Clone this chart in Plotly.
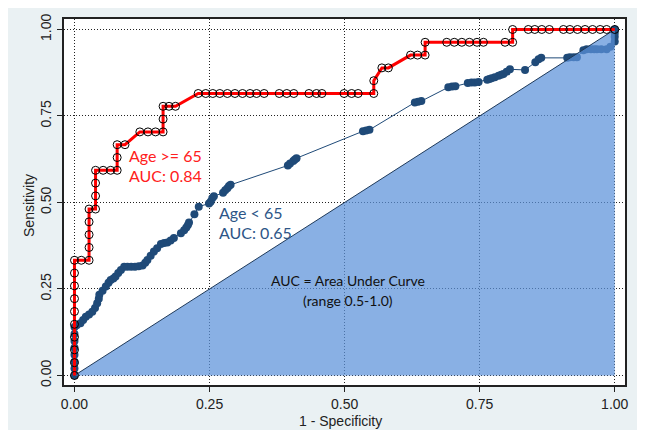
import plotly.graph_objects as go

# ---- data ----
tick_vals = [0, 0.25, 0.5, 0.75, 1.0]
tick_text = ["0.00", "0.25", "0.50", "0.75", "1.00"]

# Age >= 65 ROC points (1 - specificity, sensitivity)
old_x = [0, 0, 0, 0, 0, 0, 0, 0, 0, 0,
         0.0126, 0.027, 0.027, 0.027, 0.027, 0.027, 0.039, 0.039, 0.039, 0.039,
         0.053, 0.067, 0.079, 0.079, 0.079, 0.0935, 0.121, 0.136, 0.150, 0.164,
         0.164, 0.164, 0.175, 0.187, 0.229, 0.243, 0.256, 0.269, 0.283, 0.297,
         0.311, 0.325, 0.337, 0.351, 0.379, 0.393, 0.406, 0.434, 0.448, 0.458,
         0.499, 0.513, 0.525, 0.554, 0.554, 0.569, 0.581, 0.622, 0.635, 0.649,
         0.649, 0.689, 0.703, 0.717, 0.731, 0.745, 0.757, 0.797, 0.811, 0.811,
         0.840, 0.852, 0.865, 0.879, 0.905, 0.917, 0.931, 0.945, 0.959, 0.973,
         0.985, 1.0]
old_y = [0, 0.037, 0.074, 0.111, 0.148, 0.185, 0.222, 0.259, 0.296, 0.333,
         0.333, 0.333, 0.370, 0.407, 0.444, 0.481, 0.481, 0.519, 0.556, 0.593,
         0.593, 0.593, 0.593, 0.630, 0.667, 0.667, 0.704, 0.704, 0.704, 0.704,
         0.741, 0.778, 0.778, 0.778, 0.815, 0.815, 0.815, 0.815, 0.815, 0.815,
         0.815, 0.815, 0.815, 0.815, 0.815, 0.815, 0.815, 0.815, 0.815, 0.815,
         0.815, 0.815, 0.815, 0.815, 0.852, 0.889, 0.889, 0.926, 0.926, 0.926,
         0.963, 0.963, 0.963, 0.963, 0.963, 0.963, 0.963, 0.963, 0.963, 1.0,
         1.0, 1.0, 1.0, 1.0, 1.0, 1.0, 1.0, 1.0, 1.0, 1.0,
         1.0, 1.0]

# Age < 65 ROC points
young_x = [0, 0, 0, 0, 0, 0, 0, 0,
           0.004, 0.011, 0.016, 0.021, 0.027, 0.033, 0.038, 0.042, 0.045, 0.046,
           0.052, 0.058, 0.063, 0.067, 0.072, 0.076, 0.081, 0.086, 0.092, 0.098,
           0.105, 0.112, 0.119, 0.126, 0.131, 0.135, 0.141, 0.147, 0.153, 0.160,
           0.166, 0.172, 0.178, 0.184, 0.197, 0.203, 0.207, 0.210, 0.212, 0.222,
           0.230, 0.249, 0.252, 0.255, 0.258, 0.275, 0.279, 0.283, 0.286, 0.289,
           0.395, 0.399, 0.405, 0.408, 0.411,
           0.534, 0.540, 0.546,
           0.630, 0.636, 0.642,
           0.692, 0.699, 0.705,
           0.728, 0.735, 0.741, 0.748,
           0.764, 0.768, 0.772, 0.778, 0.785, 0.790, 0.794, 0.800, 0.806,
           0.834, 0.853, 0.859, 0.864,
           0.912, 0.917, 0.924, 0.930,
           0.942, 0.948, 0.956, 0.962, 0.967, 0.975, 0.985, 0.992,
           1.0, 1.0, 1.0, 1.0]
young_y = [0, 0.02, 0.04, 0.06, 0.08, 0.10, 0.12, 0.14,
           0.145, 0.151, 0.160, 0.170, 0.176, 0.184, 0.195, 0.209, 0.222, 0.233,
           0.245, 0.257, 0.268, 0.276, 0.280, 0.286, 0.296, 0.305, 0.314, 0.314,
           0.314, 0.314, 0.316, 0.318, 0.326, 0.334, 0.346, 0.358, 0.368, 0.380,
           0.383, 0.384, 0.390, 0.397, 0.411, 0.420, 0.428, 0.435, 0.442, 0.466,
           0.488, 0.497, 0.502, 0.512, 0.518, 0.528, 0.535, 0.541, 0.548, 0.551,
           0.607, 0.613, 0.620, 0.624, 0.628,
           0.706, 0.708, 0.710,
           0.789, 0.791, 0.793,
           0.833, 0.835, 0.836,
           0.845, 0.847, 0.847, 0.848,
           0.855, 0.857, 0.859, 0.862, 0.866, 0.869, 0.871, 0.878, 0.885,
           0.883, 0.905, 0.914, 0.918,
           0.918, 0.920, 0.920, 0.920,
           0.940, 0.943, 0.943, 0.943, 0.943, 0.943, 0.943, 0.950,
           0.965, 0.979, 0.990, 1.0]

ref_x = [0, 1, 1, 0]
ref_y = [0, 1, 0, 0]

label_old = ["Age >= 65", "AUC: 0.84"]
label_young = ["Age < 65", "AUC: 0.65"]
label_note = ["AUC = Area Under Curve", "(range 0.5-1.0)"]

NAVY = "#1F4A78"
RED = "#FF0000"

fig = go.Figure()

fig.add_trace(go.Scatter(
    x=young_x, y=young_y, mode="lines+markers",
    line=dict(color=NAVY, width=1),
    marker=dict(color=NAVY, size=8, line=dict(width=0)),
    showlegend=False, hoverinfo="skip"))

fig.add_trace(go.Scatter(
    x=ref_x, y=ref_y, mode="lines", fill="toself",
    fillcolor="rgba(91,145,218,0.72)", line=dict(width=0),
    showlegend=False, hoverinfo="skip"))

fig.add_trace(go.Scatter(
    x=[ref_x[0], ref_x[1]], y=[ref_y[0], ref_y[1]], mode="lines",
    line=dict(color="#1F3A5A", width=1),
    showlegend=False, hoverinfo="skip"))

fig.add_trace(go.Scatter(
    x=old_x, y=old_y, mode="lines+markers",
    line=dict(color=RED, width=3),
    marker=dict(symbol="circle-open", color="black", size=8, line=dict(width=1, color="black")),
    showlegend=False, hoverinfo="skip"))

ann = []
ann.append(dict(x=0.0972, y=0.637, text=label_old[0], font=dict(color="#FF2020", size=16, family="Lato")))
ann.append(dict(x=0.0972, y=0.579, text=label_old[1], font=dict(color="#FF2020", size=16, family="Lato")))
ann.append(dict(x=0.2643, y=0.4705, text=label_young[0], font=dict(color="#2D5587", size=16, family="Lato")))
ann.append(dict(x=0.2643, y=0.4127, text=label_young[1], font=dict(color="#2D5587", size=16, family="Lato")))
for a in ann:
    a.update(xref="x", yref="y", xanchor="left", yanchor="middle", showarrow=False)
ann.append(dict(x=0.5057, y=0.274, text=label_note[0], xref="x", yref="y", xanchor="center", yanchor="middle",
                showarrow=False, font=dict(color="#111", size=14, family="Lato")))
ann.append(dict(x=0.5057, y=0.218, text=label_note[1], xref="x", yref="y", xanchor="center", yanchor="middle",
                showarrow=False, font=dict(color="#111", size=14, family="Lato")))
# axis titles
ann.append(dict(x=0.492, y=-0.099, text="1 - Specificity", xref="paper", yref="paper", xanchor="center",
                yanchor="middle", showarrow=False, font=dict(color="#222", size=14, family="Liberation Sans")))
ann.append(dict(x=-0.0624, y=0.4918, text="Sensitivity", xref="paper", yref="paper", xanchor="center",
                yanchor="middle", textangle=-90, showarrow=False,
                font=dict(color="#222", size=14, family="Liberation Sans")))

axis_common = dict(
    tickvals=tick_vals, ticktext=tick_text, ticks="outside", ticklen=5, tickwidth=1, tickcolor="#222",
    showgrid=True, gridcolor="#222", gridwidth=1, griddash="1px,2px", zeroline=False,
    showline=True, linecolor="#222", linewidth=2, mirror=True,
    tickfont=dict(family="Liberation Sans", size=14, color="#222"),
    fixedrange=True, automargin=False,
)

# The page body adds an 8px white margin, which plays the role of the white border.
fig.update_layout(
    width=629, height=422,
    margin=dict(l=56, r=12, t=11, b=45, pad=0, autoexpand=False),
    paper_bgcolor="#EAF1F3", plot_bgcolor="white",
    xaxis=dict(range=[-0.0194, 1.019], ticklabelstandoff=0, **axis_common),
    yaxis=dict(range=[-0.0275, 1.0303], tickangle=-90, **axis_common),
    annotations=ann,
)

fig.write_html("out.html")
